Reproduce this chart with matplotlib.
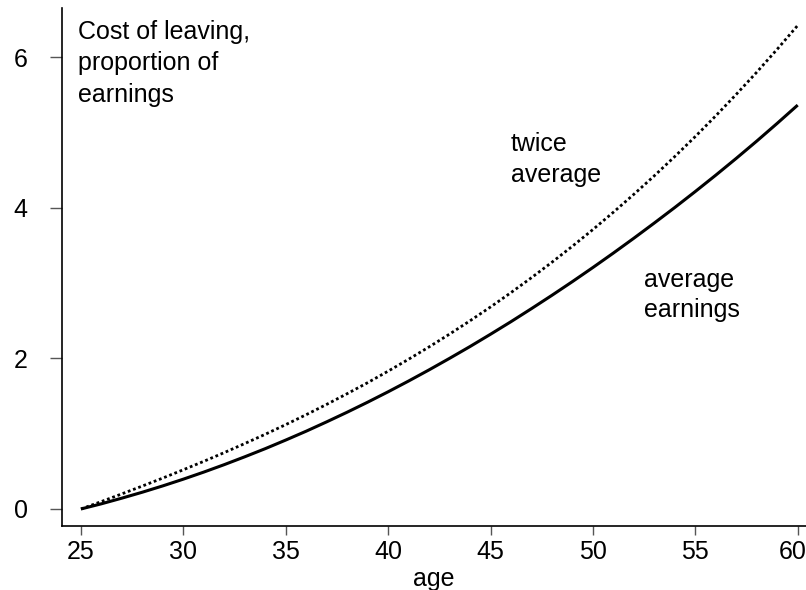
import matplotlib
matplotlib.use("Agg")
import matplotlib.pyplot as plt
import matplotlib.transforms as mtransforms

plt.rcParams['font.family'] = ['Liberation Sans', 'DejaVu Sans']

# values (one point per year of age)
age = list(range(25, 61))
avg_earnings = [0.000, 0.069, 0.144, 0.223, 0.307, 0.396, 0.490, 0.589, 0.693, 0.801,
                0.915, 1.033, 1.157, 1.285, 1.418, 1.556, 1.699, 1.847, 2.000, 2.157,
                2.320, 2.487, 2.660, 2.837, 3.019, 3.206, 3.398, 3.595, 3.797, 4.003,
                4.215, 4.432, 4.655, 4.884, 5.120, 5.362]
twice_average = [0.000, 0.099, 0.201, 0.305, 0.411, 0.521, 0.633, 0.749, 0.869, 0.992,
                 1.120, 1.252, 1.389, 1.531, 1.677, 1.830, 1.988, 2.152, 2.322, 2.499,
                 2.682, 2.873, 3.071, 3.276, 3.489, 3.710, 3.940, 4.178, 4.424, 4.680,
                 4.945, 5.220, 5.505, 5.799, 6.104, 6.420]

x_ticks = [25, 30, 35, 40, 45, 50, 55, 60]
y_ticks = [0, 2, 4, 6]

fig = plt.figure(figsize=(8.06, 5.9), dpi=100)
ax = fig.add_axes([62 / 806, 64.3 / 590, 744 / 806, 517.4 / 590])

ax.plot(age, avg_earnings, color='black', lw=2.2, solid_capstyle='butt')
ax.plot(age, twice_average, color='black', lw=2.0, linestyle=(0, (1, 1)))

ax.set_xlim(24.073, 60.405)
ax.set_ylim(-0.222, 6.647)
ax.set_xticks(x_ticks)
ax.set_yticks(y_ticks)

# R-style L box
ax.spines['top'].set_visible(False)
ax.spines['right'].set_visible(False)
for s in ['left', 'bottom']:
    ax.spines[s].set_linewidth(1.2)
    ax.spines[s].set_color('black')

ax.tick_params(axis='y', length=8.6, width=1.0, color='#555555', pad=16, labelsize=18)
ax.tick_params(axis='x', length=6.7, width=1.0, color='#555555', pad=3.5, labelsize=18)

# last x label sits against the right edge, nudge it in a little
last_lbl = ax.get_xticklabels()[-1]
last_lbl.set_transform(last_lbl.get_transform() +
                       mtransforms.ScaledTranslation(-5 / 100, 0, fig.dpi_scale_trans))

ax.set_xlabel('age', fontsize=18, labelpad=2)

# inline labels
ax.text(24.84, 6.49, 'Cost of leaving,\nproportion of\nearnings', fontsize=18,
        ha='left', va='top', linespacing=1.38)
ax.text(45.98, 5.01, 'twice\naverage', fontsize=18, ha='left', va='top', linespacing=1.38)
ax.text(52.47, 3.20, 'average\nearnings', fontsize=18, ha='left', va='top', linespacing=1.3)

plt.savefig('out.png', dpi=100)
